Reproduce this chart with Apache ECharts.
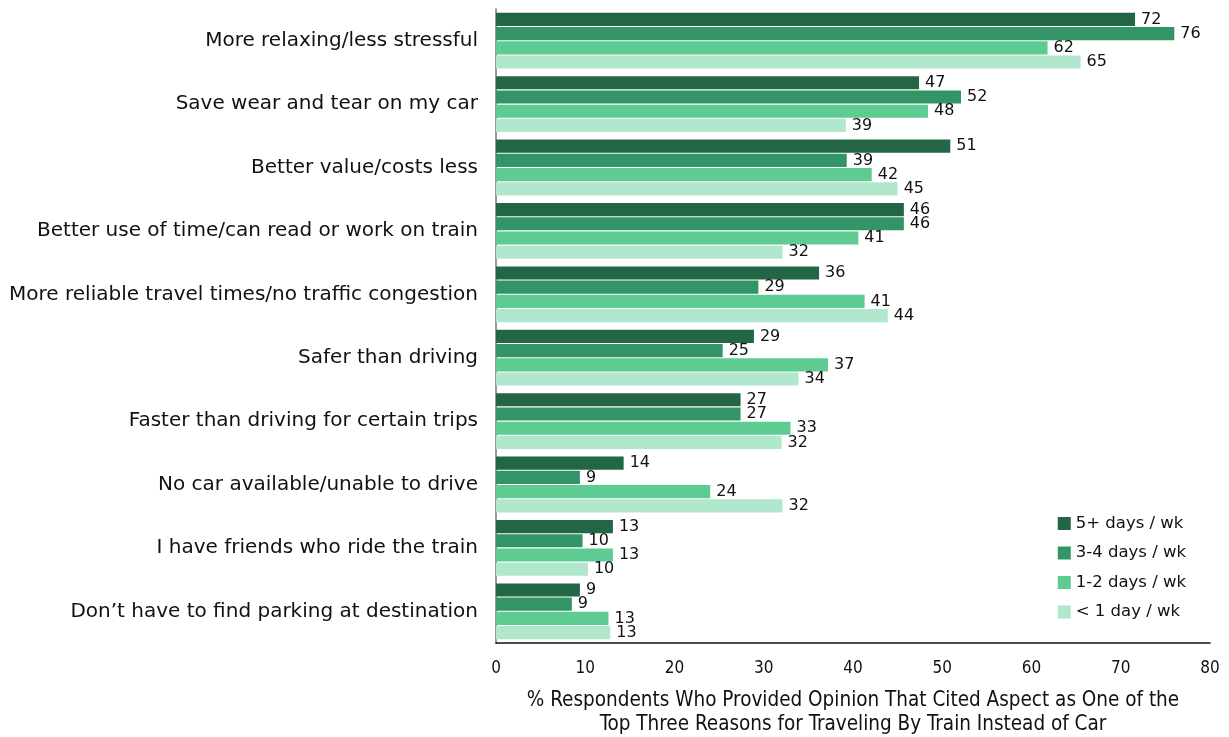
<!DOCTYPE html>
<html>
<head>
<meta charset="utf-8">
<script src="https://cdn.jsdelivr.net/npm/echarts@6/dist/echarts.min.js"></script>
<style>html,body{margin:0;padding:0;background:#fff}#c{width:1229px;height:737px}</style>
</head>
<body>
<div id="c"></div>
<script>
const categories = [
  "More relaxing/less stressful",
  "Save wear and tear on my car",
  "Better value/costs less",
  "Better use of time/can read or work on train",
  "More reliable travel times/no traffic congestion",
  "Safer than driving",
  "Faster than driving for certain trips",
  "No car available/unable to drive",
  "I have friends who ride the train",
  "Don\u2019t have to find parking at destination"
];
const seriesNames = ["5+ days / wk", "3-4 days / wk", "1-2 days / wk", "< 1 day / wk"];
const days5plus = [71.6, 47.4, 50.9, 45.7, 36.2, 28.9, 27.4, 14.3, 13.1, 9.4];
const days3to4  = [76.0, 52.1, 39.3, 45.7, 29.4, 25.4, 27.4, 9.4, 9.7, 8.5];
const days1to2  = [61.8, 48.4, 42.1, 40.6, 41.3, 37.2, 33.0, 24.0, 13.1, 12.6];
const daysLess1 = [65.5, 39.2, 45.0, 32.1, 43.9, 33.9, 32.0, 32.1, 10.3, 12.8];
const labels5plus = [72, 47, 51, 46, 36, 29, 27, 14, 13, 9];
const labels3to4  = [76, 52, 39, 46, 29, 25, 27, 9, 10, 9];
const labels1to2  = [62, 48, 42, 41, 41, 37, 33, 24, 13, 13];
const labelsLess1 = [65, 39, 45, 32, 44, 34, 32, 32, 10, 13];
const colors = ["#226645", "#339566", "#5ecb93", "#b1e7cd"];

const allData = [days5plus, days3to4, days1to2, daysLess1];
const allLabels = [labels5plus, labels3to4, labels1to2, labelsLess1];

const chart = echarts.init(document.getElementById('c'));
chart.setOption({
  animation: false,
  grid: { left: 496, right: 19, top: 9, bottom: 94, containLabel: false, outerBoundsMode: 'none' },
  legend: {
    orient: 'vertical',
    right: 38,
    top: 510,
    itemWidth: 13,
    itemHeight: 13,
    itemGap: 12.5,
    icon: 'rect',
    textStyle: { fontFamily: 'DejaVu Sans', fontSize: 16.5, color: '#111' },
    data: seriesNames
  },
  xAxis: {
    type: 'value',
    min: 0, max: 80, interval: 10,
    axisLine: { show: true, lineStyle: { color: '#111', width: 1.5 } },
    axisTick: { show: false },
    splitLine: { show: false },
    axisLabel: { fontFamily: 'DejaVu Sans Condensed', fontSize: 17, color: '#111', margin: 17 },
    name: '% Respondents Who Provided Opinion That Cited Aspect as One of the\nTop Three Reasons for Traveling By Train Instead of Car',
    nameLocation: 'middle',
    nameGap: 46,
    nameTextStyle: { fontFamily: 'DejaVu Sans Condensed', fontSize: 20.5, color: '#111', lineHeight: 24, verticalAlign: 'top' }
  },
  yAxis: {
    type: 'category',
    inverse: true,
    data: categories,
    axisLine: { show: true, lineStyle: { color: '#777', width: 1.5 } },
    axisTick: { show: false },
    axisLabel: { fontFamily: 'DejaVu Sans', fontSize: 20, color: '#111', margin: 18 }
  },
  series: seriesNames.map((n, i) => ({
    name: n,
    type: 'bar',
    data: allData[i],
    barCategoryGap: '12%',
    barGap: '8%',
    itemStyle: { color: colors[i] },
    label: {
      show: true,
      position: 'right',
      distance: 6,
      fontFamily: 'DejaVu Sans',
      fontSize: 16,
      color: '#111',
      formatter: p => String(allLabels[i][p.dataIndex])
    }
  }))
});
</script>
</body>
</html>
